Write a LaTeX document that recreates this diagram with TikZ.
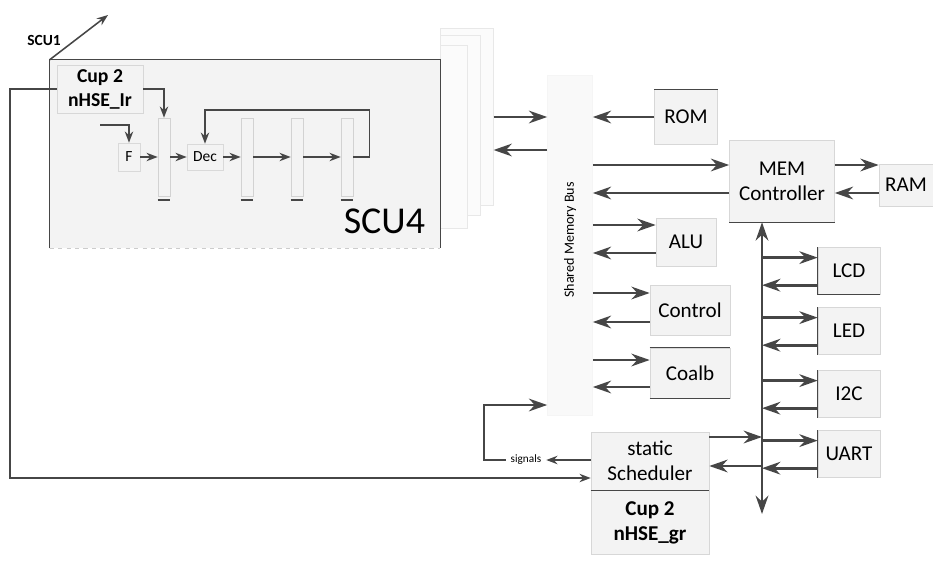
\documentclass[tikz,border=0pt]{standalone}
\usepackage{fontspec}
\setmainfont{Carlito}
\usetikzlibrary{arrows.meta, positioning, calc}
\definecolor{linegray}{RGB}{70,70,70}
\definecolor{boxline}{RGB}{215,215,215}
\definecolor{boxfill}{RGB}{243,243,243}

\begin{document}
\begin{tikzpicture}[x=0.25mm, y=-0.25mm,
    box/.style={rectangle, draw=boxline, fill=boxfill, align=center, inner sep=1pt,
                font=\fontsize{15}{18}\selectfont},
    cupbox/.style={box, font=\fontsize{14}{17}\selectfont\bfseries},
    stackbox/.style={rectangle, draw=gray!18, fill=gray!3, anchor=north west, inner sep=0pt},
    stage/.style={rectangle, draw=gray!30, inner sep=1pt, font=\fontsize{11}{13}\selectfont},
    latch/.style={rectangle, draw=gray!35, minimum width=3mm, minimum height=19.5mm},
    arr/.style={-{Stealth[length=13pt,width=9pt]}, line width=2pt, linegray},
    thinarr/.style={-{Stealth[length=8pt,width=6pt]}, line width=1.1pt, linegray}]
    \useasboundingbox (0,0) rectangle (933,561);
    \node[stackbox, minimum width=13.25mm, minimum height=44.25mm] (stack1) at (440,28) {};
    \node[stackbox, minimum width=10mm, minimum height=45mm] (stack2) at (440,35) {};
    \node[stackbox, minimum width=6.75mm, minimum height=45.75mm] (stack3) at (440,45) {};
    \node[fill=boxfill, minimum width=97.5mm, minimum height=47mm, inner sep=0pt] (scu) at (245,154) {};
    \draw[linegray, line width=1pt] (scu.south west) |- (scu.north east) -- (scu.south east);
    \draw[gray!40, dashed] (scu.south west) -- (scu.south east);
    \node[font=\fontsize{27}{30}\selectfont, anchor=base east] (scu4lbl) at (430,233) {SCU4};
    \node[font=\fontsize{11}{13}\selectfont\bfseries] (scu1lbl) at (44,40) {SCU1};
    \coordinate (scu1tip) at (108,15);
    \draw[thinarr] (scu.north west) -- (scu1tip);

    \node[cupbox, minimum width=21.5mm, minimum height=12mm] (cup1) at (100,89) {Cup 2\\nHSE\_Ir};
    \node[stage, minimum width=5.5mm, minimum height=7mm] (f) at (129,157) {F};
    \node[stage, minimum width=9mm, minimum height=6.5mm] (dec) at (205,157) {Dec};
    \node[latch] (latch1) at (164,157) {};
    \node[latch] (latch2) at (247,157) {};
    \node[latch] (latch3) at (297,157) {};
    \node[latch] (latch4) at (347,157) {};
    \foreach \l in {latch1, latch2, latch3, latch4}
        \draw[line width=1.2pt, linegray] ([yshift=-1mm]\l.south west) -- ([yshift=-1mm]\l.south east);
    \coordinate (fin) at (100,125);
    \draw[thinarr] (fin) -| (f.north);
    \draw[thinarr] (cup1.east) -| (latch1.north);
    \draw[thinarr] (f) -- (latch1); \draw[thinarr] (latch1) -- (dec); \draw[thinarr] (dec) -- (latch2);
    \draw[thinarr] (latch2) -- (latch3); \draw[thinarr] (latch3) -- (latch4);
    \draw[thinarr] (latch4.east) -- ++(4mm,0) |- (dec.north |- 0,110) -- (dec.north);

    \node[rectangle, fill=gray!5, draw=gray!8, minimum width=11.25mm, minimum height=85mm] (arb) at (570,245) {};
    \node[rotate=90, font=\fontsize{10}{12}\selectfont] (arblbl) at (570,240) {Shared Memory Bus};

    \node[box, minimum width=15.75mm, minimum height=13.75mm] (rom) at (686,117) {ROM};
    \node[box, minimum width=26.25mm, minimum height=20.5mm] (mem) at (782,181) {MEM\\Controller};
    \node[box, minimum width=13.5mm, minimum height=10.5mm] (ram) at (906,185) {RAM};
    \node[box, minimum width=15mm, minimum height=12mm] (alu) at (686,242) {ALU};
    \node[box, minimum width=20mm, minimum height=12.5mm] (ctl) at (690,310) {Control};
    \node[box, minimum width=20mm, minimum height=12.5mm] (coalb) at (690,373) {Coalb};
    \node[box, minimum width=15.5mm, minimum height=11.75mm] (lcd) at (849,271) {LCD};
    \node[box, minimum width=15.5mm, minimum height=11.75mm] (led) at (849,331) {LED};
    \node[box, minimum width=15.5mm, minimum height=11.75mm] (i2c) at (849,394) {I2C};
    \node[box, minimum width=15.5mm, minimum height=11.75mm] (uart) at (849,454) {UART};
    \node[box, minimum width=29.5mm, minimum height=14.5mm] (sched) at (650,461) {static\\Scheduler};
    \node[cupbox, font=\fontsize{15}{18}\selectfont\bfseries, minimum width=29.5mm, minimum height=16mm, below=0pt of sched] (cup2) {Cup 2\\nHSE\_gr};
    \draw[linegray, line width=1pt] (sched.south west) -- (sched.south east);
    \draw[linegray, line width=1pt] (rom.north west) -- (rom.north east);
    \draw[linegray, line width=1pt] (mem.south west) -- (mem.south east);
    \draw[linegray, line width=1pt] (coalb.north west) -- (coalb.north east);
    \draw[linegray, line width=1pt] (coalb.south west) -- (coalb.south east);
    \draw[linegray, line width=1pt] (lcd.north west) |- (lcd.south east);
    \node[font=\fontsize{8}{10}\selectfont] (sig) at (526,460) {signals};

    \draw[arr] (stack1.east |- 0,117) -- (arb.west |- 0,117);
    \draw[arr] (arb.west |- 0,150) -- (stack1.east |- 0,150);
    \draw[arr] (rom.west) -- (arb.east |- rom.west);
    \draw[arr] (arb.east |- 0,165) -- (mem.west |- 0,165);
    \draw[arr] (mem.west |- 0,193) -- (arb.east |- 0,193);
    \draw[arr] (mem.east |- 0,165) -- (ram.west |- 0,165);
    \draw[arr] (ram.west |- 0,193) -- (mem.east |- 0,193);
    \draw[arr] (arb.east |- 0,225) -- (alu.west |- 0,225);
    \draw[arr] (alu.west |- 0,253) -- (arb.east |- 0,253);
    \draw[arr] (arb.east |- 0,293) -- (ctl.west |- 0,293);
    \draw[arr] (ctl.west |- 0,322) -- (arb.east |- 0,322);
    \draw[arr] (arb.east |- 0,360) -- (coalb.west |- 0,360);
    \draw[arr] (coalb.west |- 0,387) -- (arb.east |- 0,387);

    \coordinate (bus) at (762,0);
    \draw[{Stealth[length=13pt,width=9pt]}-{Stealth[length=13pt,width=9pt]}, line width=2pt, linegray]
        (bus |- mem.south) -- (bus |- 0,514);
    \foreach \d in {lcd, led, i2c, uart} {
        \draw[linegray, line width=1pt] (\d.north west) -- (\d.south west);
        \draw[arr] ([yshift=-2.6mm]\d.north west -| bus) -- ([yshift=-2.6mm]\d.north west);
        \draw[arr] ([yshift=2.4mm]\d.south west) -- ([yshift=2.4mm]\d.south west -| bus);
    }
    \draw[arr] (sched.east |- 0,437) -- (bus |- 0,437);
    \draw[arr] (bus |- 0,466) -- (sched.east |- 0,466);

    \draw[thinarr] (sched.west |- sig.east) -- (sig.east);
    \draw[arr] (sig.west) -| (484,405) -- (arb.west |- 0,405);
    \draw[thinarr] (cup1.west) -| (10,478) -- (sched.west |- 0,478);
\end{tikzpicture}
\end{document}
